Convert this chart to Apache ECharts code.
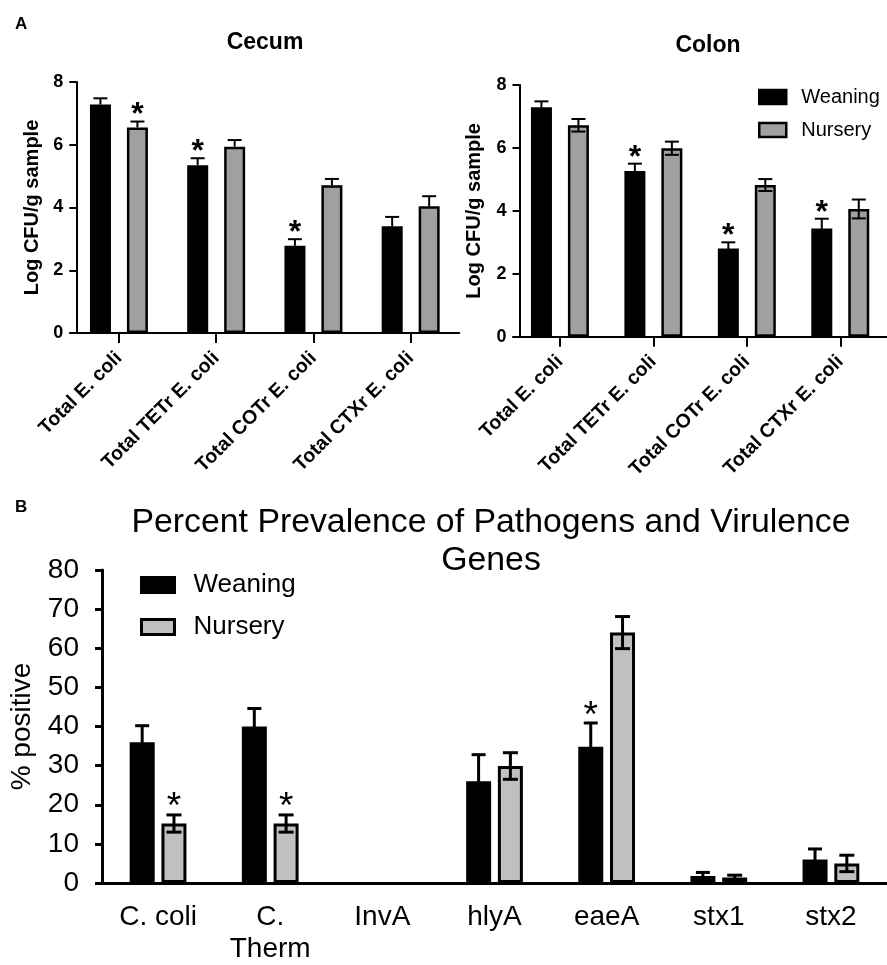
<!DOCTYPE html>
<html>
<head>
<meta charset="utf-8">
<script src="https://cdn.jsdelivr.net/npm/echarts@6/dist/echarts.min.js"></script>
<style>
html,body{margin:0;padding:0;background:#fff;}
#chart{width:887px;height:965px;}
</style>
</head>
<body>
<div id="chart"></div>
<script>
// ---------- DATA ----------
const categoriesA = ['Total E. coli', 'Total TETr E. coli', 'Total COTr E. coli', 'Total CTXr E. coli'];
const cecumWeaning = [7.28, 5.35, 2.78, 3.4];
const cecumWeaningErr = [0.2, 0.22, 0.21, 0.3];
const cecumWeaningSig = [0, 1, 1, 0];
const cecumNursery = [6.55, 5.94, 4.71, 4.04];
const cecumNurseryErr = [0.19, 0.21, 0.2, 0.32];
const cecumNurserySig = [1, 0, 0, 0];

const colonWeaning = [7.29, 5.27, 2.8, 3.44];
const colonWeaningErr = [0.19, 0.23, 0.2, 0.31];
const colonWeaningSig = [0, 1, 1, 1];
const colonNursery = [6.72, 5.99, 4.82, 4.06];
const colonNurseryErr = [0.2, 0.21, 0.19, 0.3];
const colonNurserySig = [0, 0, 0, 0];

const categoriesB = ['C. coli', 'C.\nTherm', 'InvA', 'hlyA', 'eaeA', 'stx1', 'stx2'];
const prevWeaning = [36, 40, 0, 26, 34.8, 1.8, 6];
const prevWeaningErr = [4.2, 4.6, 0, 6.8, 6.1, 0.9, 2.7];
const prevWeaningSig = [0, 0, 0, 0, 1, 0, 0];
const prevNursery = [15.2, 15.2, 0, 29.9, 64, 1.4, 5];
const prevNurseryErr = [2.2, 2.2, 0, 3.4, 4.1, 0.6, 2.1];
const prevNurserySig = [1, 1, 0, 0, 0, 0, 0];

const yTicksA = [0, 2, 4, 6, 8];
const yTicksB = [0, 10, 20, 30, 40, 50, 60, 70, 80];

// ---------- HELPERS ----------
const FONT = "'Liberation Sans', Arial, Helvetica, sans-serif";
const GRAY_A = '#a0a0a2';
const GRAY_B = '#c0c0c0';

function errData(vals, errs, sigs) {
  return vals.map((v, i) => [i, v, errs[i], sigs[i]]);
}

// zero-height bars get no outline (nothing is drawn for them in the reference)
function barData(vals) {
  return vals.map(v => (v === 0 ? { value: v, itemStyle: { borderWidth: 0 } } : v));
}

function errRender(offsetPx, capW, lw, showLower, starGap, starFont) {
  return function (params, api) {
    const i = api.value(0), m = api.value(1), e = api.value(2), s = api.value(3);
    const base = api.coord([i, m]);
    const x = base[0] + offsetPx;
    const top = api.coord([i, m + e])[1];
    const children = [];
    const st = { stroke: '#000', lineWidth: lw, fill: null };
    if (e > 0) {
      const bot = showLower ? api.coord([i, m - e])[1] : base[1];
      children.push({ type: 'line', shape: { x1: x, y1: top, x2: x, y2: bot }, style: st });
      children.push({ type: 'line', shape: { x1: x - capW / 2, y1: top, x2: x + capW / 2, y2: top }, style: st });
      if (showLower) {
        children.push({ type: 'line', shape: { x1: x - capW / 2, y1: bot, x2: x + capW / 2, y2: bot }, style: st });
      }
    }
    if (s) {
      const fs = starFont.size;
      children.push({
        type: 'text',
        x: x,
        y: top - starGap + fs * 0.22,
        style: { text: '*', fill: '#000', font: starFont.weight + ' ' + fs + 'px ' + FONT, align: 'center', verticalAlign: 'middle' }
      });
    }
    return { type: 'group', children: children };
  };
}

function errSeries(idx, vals, errs, sigs, offsetPx, capW, lw, showLower, starGap, starFont) {
  return {
    type: 'custom',
    xAxisIndex: idx, yAxisIndex: idx,
    z: 5, silent: true,
    encode: { x: 0, y: 1 },
    data: errData(vals, errs, sigs),
    renderItem: errRender(offsetPx, capW, lw, showLower, starGap, starFont)
  };
}

function yAxisA(idx, off, gap) {
  return {
    type: 'value', gridIndex: idx, min: yTicksA[0], max: yTicksA[yTicksA.length - 1], interval: 2,
    offset: off,
    name: 'Log CFU/g sample', nameLocation: 'middle', nameGap: gap, nameRotate: 90,
    nameTextStyle: { fontFamily: FONT, fontSize: 20, fontWeight: 'bold', color: '#000' },
    axisLine: { show: true, lineStyle: { color: '#000', width: 2 } },
    axisTick: { show: true, length: 7, lineStyle: { color: '#000', width: 2 } },
    axisLabel: { margin: 13, fontFamily: FONT, fontSize: 18, fontWeight: 'bold', color: '#000' },
    splitLine: { show: false }
  };
}

function xAxisA(idx) {
  return {
    type: 'category', gridIndex: idx, data: categoriesA,
    axisLine: { show: true, lineStyle: { color: '#000', width: 2 } },
    axisTick: { show: true, alignWithLabel: true, length: 10, lineStyle: { color: '#000', width: 2 } },
    axisLabel: { rotate: 45, margin: 22, interval: 0, fontFamily: FONT, fontSize: 19.5, fontWeight: 'bold', color: '#000' }
  };
}

const starA = { size: 32, weight: 'bold' };
const starB = { size: 37, weight: 'normal' };

const option = {
  animation: false,
  backgroundColor: '#fff',
  title: [
    { text: 'A', left: 15, top: 16, padding: 0, textStyle: { fontFamily: FONT, fontSize: 17, fontWeight: 'bold', color: '#000' } },
    { text: 'Cecum', left: 265, top: 31, padding: 0, textAlign: 'center', textStyle: { fontFamily: FONT, fontSize: 23, fontWeight: 'bold', color: '#000' } },
    { text: 'Colon', left: 708, top: 34, padding: 0, textAlign: 'center', textStyle: { fontFamily: FONT, fontSize: 23, fontWeight: 'bold', color: '#000' } },
    { text: 'B', left: 15, top: 499, padding: 0, textStyle: { fontFamily: FONT, fontSize: 17, fontWeight: 'bold', color: '#000' } },
    { text: 'Percent Prevalence of Pathogens and Virulence\nGenes', left: 491, top: 504, padding: 0, textAlign: 'center',
      textStyle: { fontFamily: FONT, fontSize: 33.8, fontWeight: 'normal', lineHeight: 38, color: '#000' } }
  ],
  legend: [
    {
      orient: 'vertical', left: 758, top: 87, padding: 0, itemWidth: 27, itemHeight: 14, itemGap: 13,
      icon: 'rect',
      data: [
        { name: 'Weaning', itemStyle: { color: '#000', borderColor: '#000', borderWidth: 2.5 } },
        { name: 'Nursery', itemStyle: { color: GRAY_A, borderColor: '#000', borderWidth: 2.5 } }
      ],
      textStyle: { fontFamily: FONT, fontSize: 20, color: '#000', padding: [0, 0, 0, 10] },
      selectedMode: false
    },
    {
      orient: 'vertical', left: 140, top: 572, padding: 0, itemWidth: 33, itemHeight: 15, itemGap: 16,
      icon: 'rect',
      data: [
        { name: 'Weaning', itemStyle: { color: '#000', borderColor: '#000', borderWidth: 3 } },
        { name: 'Nursery', itemStyle: { color: GRAY_B, borderColor: '#000', borderWidth: 3 } }
      ],
      textStyle: { fontFamily: FONT, fontSize: 26, color: '#000', padding: [0, 0, 0, 14] },
      selectedMode: false
    }
  ],
  grid: [
    { left: 70.3, top: 82, width: 389, height: 251, containLabel: false },
    { left: 513.2, top: 85, width: 390, height: 251.7, containLabel: false },
    { left: 102, top: 570, width: 798, height: 317.3, containLabel: false }
  ],
  xAxis: [
    xAxisA(0),
    xAxisA(1),
    {
      type: 'category', gridIndex: 2, data: categoriesB,
      axisLine: { show: true, lineStyle: { color: '#000', width: 3 } },
      axisTick: { show: false },
      axisLabel: { margin: 18, interval: 0, fontFamily: FONT, fontSize: 28, lineHeight: 32, color: '#000' }
    }
  ],
  yAxis: [
    yAxisA(0, -6, 34),
    yAxisA(1, -6.3, 35),
    {
      type: 'value', gridIndex: 2, min: yTicksB[0], max: yTicksB[yTicksB.length - 1], interval: 10,
      name: '% positive', nameLocation: 'middle', nameGap: 66, nameRotate: 90,
      nameTextStyle: { fontFamily: FONT, fontSize: 28, color: '#000' },
      axisLine: { show: true, lineStyle: { color: '#000', width: 3 } },
      axisTick: { show: true, length: 7, lineStyle: { color: '#000', width: 3 } },
      axisLabel: { margin: 23, fontFamily: FONT, fontSize: 28, color: '#000' },
      splitLine: { show: false }
    }
  ],
  series: [
    // Cecum
    { name: 'Weaning', type: 'bar', xAxisIndex: 0, yAxisIndex: 0, data: cecumWeaning, barWidth: 21, barGap: '76%',
      itemStyle: { color: '#000', borderColor: '#000', borderWidth: 2.5 } },
    { name: 'Nursery', type: 'bar', xAxisIndex: 0, yAxisIndex: 0, data: cecumNursery, barWidth: 21, barGap: '76%',
      itemStyle: { color: GRAY_A, borderColor: '#000', borderWidth: 2.5 } },
    errSeries(0, cecumWeaning, cecumWeaningErr, cecumWeaningSig, -18.5, 14, 2, false, 13, starA),
    errSeries(0, cecumNursery, cecumNurseryErr, cecumNurserySig, 18.5, 14, 2, false, 13, starA),
    // Colon
    { name: 'Weaning', type: 'bar', xAxisIndex: 1, yAxisIndex: 1, data: colonWeaning, barWidth: 21, barGap: '76%',
      itemStyle: { color: '#000', borderColor: '#000', borderWidth: 2.5 } },
    { name: 'Nursery', type: 'bar', xAxisIndex: 1, yAxisIndex: 1, data: colonNursery, barWidth: 21, barGap: '76%',
      itemStyle: { color: GRAY_A, borderColor: '#000', borderWidth: 2.5 } },
    errSeries(1, colonWeaning, colonWeaningErr, colonWeaningSig, -18.5, 14, 2, true, 13, starA),
    errSeries(1, colonNursery, colonNurseryErr, colonNurserySig, 18.5, 14, 2, true, 13, starA),
    // Prevalence
    { name: 'Weaning', type: 'bar', xAxisIndex: 2, yAxisIndex: 2, data: barData(prevWeaning), barWidth: 25, barGap: '27%',
      itemStyle: { color: '#000', borderWidth: 0 } },
    { name: 'Nursery', type: 'bar', xAxisIndex: 2, yAxisIndex: 2, data: barData(prevNursery), barWidth: 25, barGap: '27%',
      itemStyle: { color: GRAY_B, borderColor: '#000', borderWidth: 3 } },
    errSeries(2, prevWeaning, prevWeaningErr, prevWeaningSig, -15.9, 14, 3, true, 14, starB),
    errSeries(2, prevNursery, prevNurseryErr, prevNurserySig, 15.9, 15, 3, true, 15, starB)
  ]
};

const chart = echarts.init(document.getElementById('chart'), null, { renderer: 'canvas' });
chart.setOption(option);
</script>
</body>
</html>
